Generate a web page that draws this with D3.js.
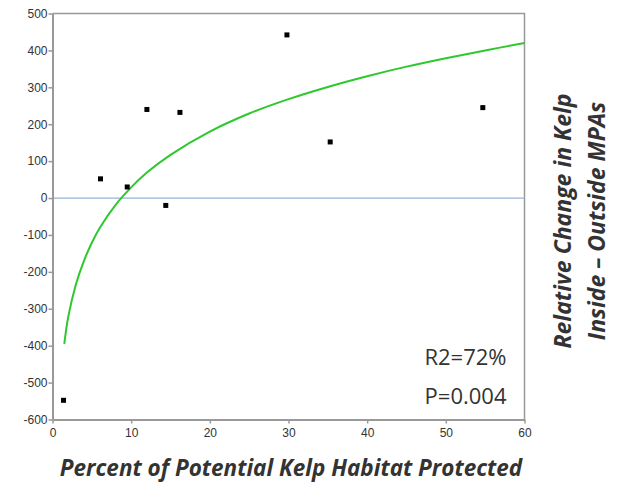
<!DOCTYPE html>
<html>
<head>
<meta charset="utf-8">
<script src="https://cdn.jsdelivr.net/npm/d3@7"></script>
<style>
  body { margin: 0; background: #fff; }
  svg text { fill: #333; }
</style>
</head>
<body>
<div id="chart"></div>
<script>
// observed sites: % of potential kelp habitat protected vs relative change
let sitePct = [1.4, 6.1, 9.5, 12, 14.4, 16.2, 29.8, 35.3, 54.7];
let siteChange = [-548, 52, 30, 240, -20, 232, 442, 152, 245];

// log fit curve
let fitPct = [1.5, 2, 3, 4, 5, 6, 8, 10, 12, 15, 20, 25, 30, 35, 40, 45, 50, 55, 60];
let fitChange = [-395, -322, -232, -170, -121, -81, -19, 29, 69, 117, 180, 229, 268, 301, 330, 356, 379, 400, 420];

let xTicks = [0, 10, 20, 30, 40, 50, 60];
let yTicks = [500, 400, 300, 200, 100, 0, -100, -200, -300, -400, -500, -600];

let statLabels = ["R2=72%", "P=0.004"];

function drawChart() {
	let div_id = "#chart";
	let margin = { top: 13.5, left: 52.5 };
	let width = 472;
	let height = 406;

	let svg = d3.select(div_id)
		.append("svg")
		.attr("width", 617)
		.attr("height", 484);

	let xScale = d3.scaleLinear().domain([0, 60]).range([0, width]),
		yScale = d3.scaleLinear().domain([-600, 500]).range([height, 0]);

	let g = svg.append("g")
		.attr("transform", "translate(" + margin.left + "," + margin.top + ")");

	// frame (top + right)
	g.append("path")
		.attr("d", "M0,0H" + width + "V" + height)
		.attr("fill", "none")
		.attr("stroke", "#999")
		.attr("stroke-width", 1.5);

	// zero line
	g.append("line")
		.attr("x1", 0)
		.attr("x2", width)
		.attr("y1", yScale(0))
		.attr("y2", yScale(0))
		.attr("stroke", "#95b3d7")
		.attr("stroke-width", 1.3);

	let xAxis = g.append("g")
		.attr("transform", "translate(0," + height + ")")
		.call(d3.axisBottom(xScale).tickValues(xTicks).tickSize(4).tickSizeOuter(0));

	let yAxis = g.append("g")
		.call(d3.axisLeft(yScale).tickValues(yTicks).tickSize(4).tickSizeOuter(0)
			.tickFormat(function (d) { return String(d); }));

	[xAxis, yAxis].forEach(function (ax) {
		ax.select(".domain").attr("stroke", "#999").attr("stroke-width", 2);
		ax.selectAll(".tick line").attr("stroke", "#999").attr("stroke-width", 1.5);
		ax.selectAll("text")
			.style("font-family", "'Liberation Sans', Arial, sans-serif")
			.style("font-size", "12px")
			.attr("fill", "#333");
	});
	xAxis.selectAll("text").attr("dy", "0.9em");
	yAxis.selectAll("text").attr("x", -5);

	// fitted curve
	let fit = fitPct.map(function (d, i) { return [d, fitChange[i]]; });
	g.append("path")
		.datum(fit)
		.attr("fill", "none")
		.attr("stroke", "#2ec82e")
		.attr("stroke-width", 2)
		.attr("d", d3.line()
			.x(function (d) { return xScale(d[0]); })
			.y(function (d) { return yScale(d[1]); })
			.curve(d3.curveCatmullRom));

	// site points
	let pts = sitePct.map(function (d, i) { return { pct: d, change: siteChange[i] }; });
	g.selectAll(".pt")
		.data(pts)
		.enter().append("rect")
		.attr("class", "pt")
		.attr("x", function (d) { return xScale(d.pct) - 2.5; })
		.attr("y", function (d) { return yScale(d.change) - 2.5; })
		.attr("width", 5)
		.attr("height", 5)
		.attr("fill", "#000");

	// stats
	g.selectAll(".stat")
		.data(statLabels)
		.enter().append("text")
		.attr("class", "stat")
		.attr("x", 454)
		.attr("y", function (d, i) { return 351 + i * 39; })
		.attr("text-anchor", "end")
		.style("font-family", "'Open Sans', sans-serif")
		.style("font-size", "22px")
		.attr("fill", "#222")
		.text(function (d) { return d; });

	// axis titles
	svg.append("text")
		.attr("x", 291)
		.attr("y", 476)
		.attr("text-anchor", "middle")
		.style("font-family", "'Open Sans', sans-serif")
		.style("font-size", "22.5px")
		.style("font-weight", "bold")
		.style("font-style", "italic")
		.text("Percent of Potential Kelp Habitat Protected");

	let rightTitles = ["Relative Change in Kelp", "Inside \u2013 Outside MPAs"];
	svg.selectAll(".ytitle")
		.data(rightTitles)
		.enter().append("text")
		.attr("class", "ytitle")
		.attr("transform", function (d, i) { return "translate(" + (571 + i * 34) + ",221) rotate(-90)"; })
		.attr("text-anchor", "middle")
		.style("font-family", "'Open Sans', sans-serif")
		.style("font-size", "23px")
		.style("font-weight", "bold")
		.style("font-style", "italic")
		.attr("fill", "#111")
		.text(function (d) { return d; });
}

drawChart();
</script>
</body>
</html>
